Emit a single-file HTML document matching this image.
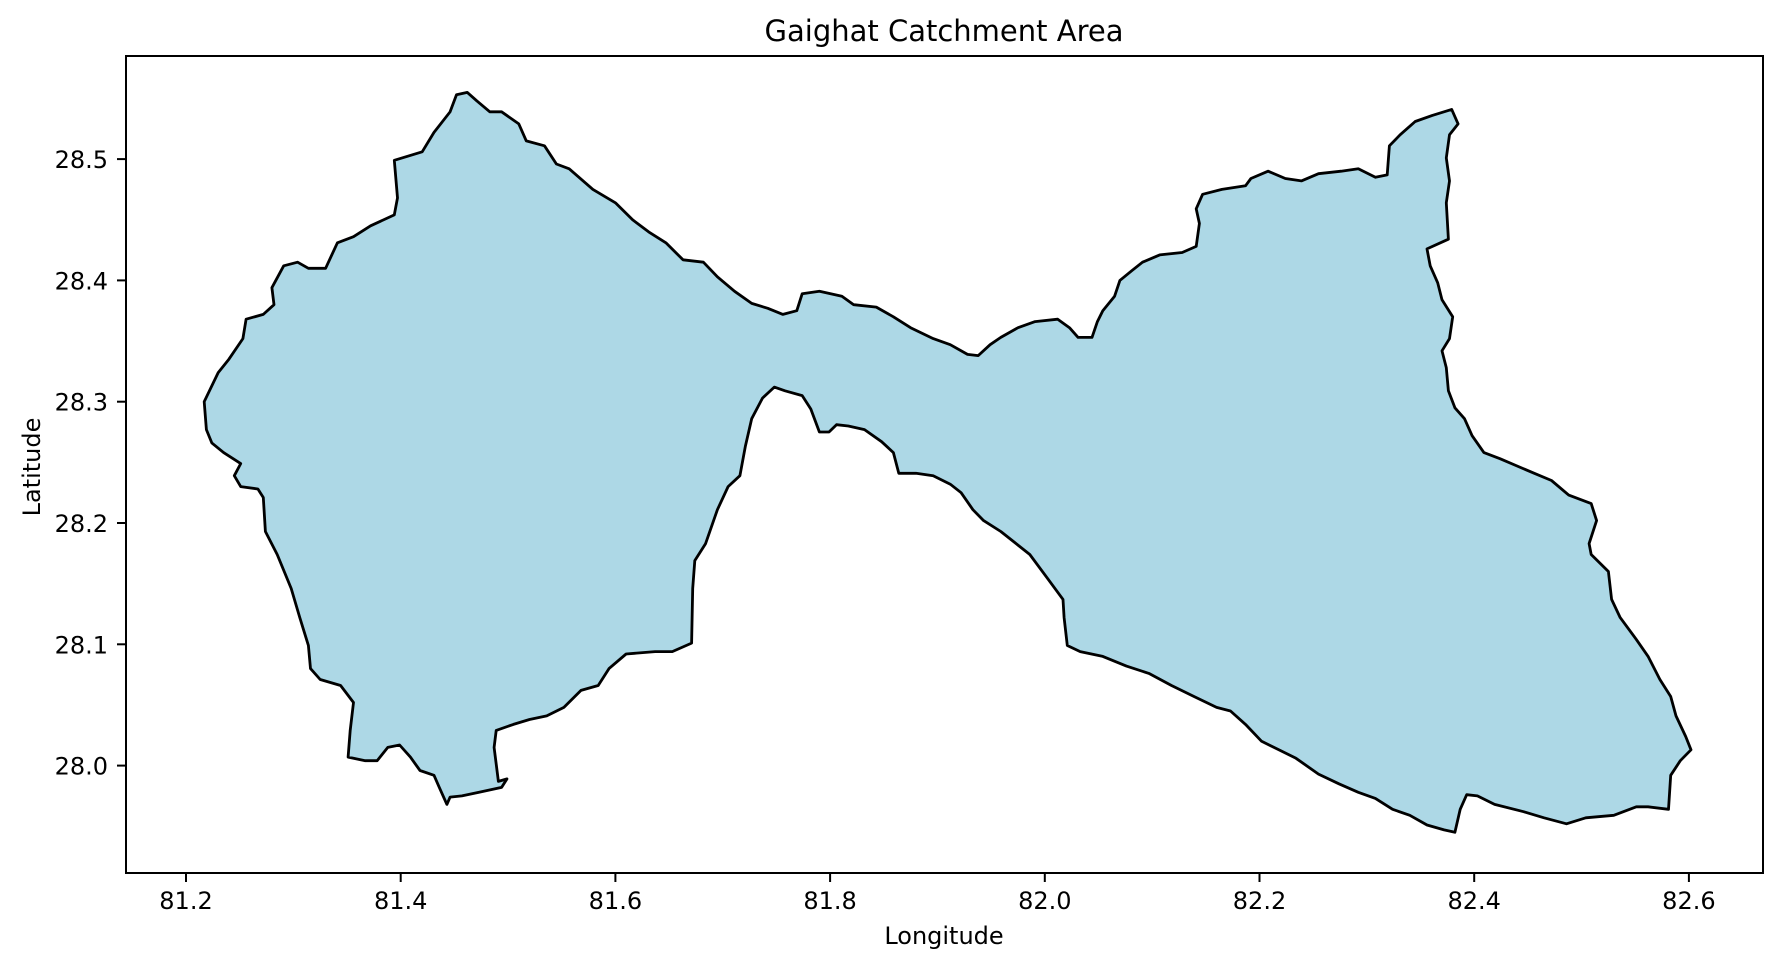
<!DOCTYPE html>
<html>
<head>
<meta charset="utf-8">
<style>
  html,body{margin:0;padding:0;background:#fff;}
  svg{display:block;}
  text{font-family:"DejaVu Sans","Liberation Sans",sans-serif;fill:#000;}
</style>
</head>
<body>
<svg id="chart" width="1781" height="966" viewBox="0 0 1781 966" xmlns="http://www.w3.org/2000/svg">
  <rect x="0" y="0" width="1781" height="966" fill="#fff"/>
  <text x="944" y="41" font-size="29" text-anchor="middle">Gaighat Catchment Area</text>
  <g id="plot"></g>
  <g id="xticks"></g>
  <g id="yticks"></g>
  <rect x="126" y="56" width="1637" height="817" fill="none" stroke="#000" stroke-width="2"/>
  <text x="944" y="944" font-size="24" text-anchor="middle">Longitude</text>
  <text x="0" y="0" font-size="24" text-anchor="middle" transform="translate(40,467) rotate(-90)">Latitude</text>
</svg>
<script>
const xTickValues = [81.2, 81.4, 81.6, 81.8, 82.0, 82.2, 82.4, 82.6];
const xTickLabels = ["81.2","81.4","81.6","81.8","82.0","82.2","82.4","82.6"];
const yTickValues = [28.0, 28.1, 28.2, 28.3, 28.4, 28.5];
const yTickLabels = ["28.0","28.1","28.2","28.3","28.4","28.5"];
const boundaryLon = [81.217,81.230,81.240,81.253,81.256,81.272,81.282,81.280,81.291,81.304,81.314,81.330,81.341,81.356,81.372,81.394,81.397,81.394,81.420,81.431,81.446,81.452,81.462,81.471,81.483,81.494,81.510,81.517,81.534,81.545,81.557,81.579,81.600,81.616,81.631,81.647,81.663,81.682,81.695,81.711,81.727,81.742,81.756,81.769,81.774,81.790,81.811,81.822,81.843,81.859,81.875,81.896,81.912,81.928,81.938,81.949,81.959,81.975,81.991,82.012,82.023,82.031,82.044,82.049,82.054,82.065,82.070,82.081,82.091,82.107,82.128,82.141,82.144,82.141,82.147,82.165,82.187,82.192,82.208,82.224,82.239,82.255,82.276,82.292,82.308,82.319,82.321,82.331,82.345,82.361,82.379,82.385,82.377,82.374,82.377,82.374,82.376,82.356,82.359,82.366,82.370,82.380,82.377,82.370,82.374,82.376,82.382,82.391,82.398,82.409,82.424,82.440,82.456,82.472,82.488,82.509,82.514,82.507,82.509,82.525,82.528,82.536,82.551,82.562,82.573,82.583,82.588,82.597,82.602,82.592,82.583,82.581,82.562,82.551,82.530,82.504,82.486,82.465,82.446,82.419,82.403,82.393,82.387,82.382,82.372,82.356,82.340,82.324,82.308,82.292,82.274,82.255,82.234,82.218,82.202,82.187,82.173,82.160,82.139,82.118,82.097,82.076,82.054,82.033,82.021,82.018,82.017,82.002,81.986,81.959,81.943,81.933,81.922,81.912,81.896,81.880,81.864,81.859,81.848,81.832,81.817,81.806,81.799,81.790,81.782,81.774,81.758,81.748,81.737,81.727,81.721,81.716,81.705,81.695,81.684,81.674,81.672,81.671,81.653,81.637,81.610,81.594,81.584,81.568,81.552,81.536,81.520,81.505,81.489,81.487,81.491,81.499,81.494,81.473,81.457,81.446,81.443,81.436,81.431,81.418,81.409,81.399,81.388,81.378,81.367,81.351,81.353,81.356,81.344,81.325,81.316,81.314,81.306,81.298,81.285,81.274,81.272,81.267,81.251,81.245,81.251,81.235,81.224,81.219];
const boundaryLat = [28.300,28.324,28.335,28.352,28.368,28.372,28.380,28.394,28.412,28.415,28.410,28.410,28.431,28.436,28.445,28.454,28.468,28.499,28.506,28.522,28.539,28.553,28.555,28.548,28.539,28.539,28.529,28.515,28.511,28.496,28.492,28.475,28.464,28.450,28.440,28.431,28.417,28.415,28.403,28.391,28.381,28.377,28.372,28.375,28.389,28.391,28.387,28.380,28.378,28.370,28.361,28.352,28.347,28.339,28.338,28.347,28.353,28.361,28.366,28.368,28.361,28.353,28.353,28.366,28.375,28.387,28.400,28.408,28.415,28.421,28.423,28.428,28.447,28.459,28.471,28.475,28.478,28.484,28.490,28.484,28.482,28.488,28.490,28.492,28.485,28.487,28.511,28.520,28.531,28.536,28.541,28.529,28.520,28.501,28.482,28.464,28.434,28.426,28.412,28.398,28.384,28.370,28.352,28.342,28.328,28.309,28.295,28.286,28.272,28.258,28.253,28.247,28.241,28.235,28.223,28.216,28.202,28.183,28.174,28.160,28.137,28.122,28.104,28.090,28.071,28.057,28.041,28.024,28.013,28.004,27.992,27.964,27.966,27.966,27.959,27.957,27.952,27.957,27.962,27.968,27.975,27.976,27.964,27.945,27.947,27.951,27.959,27.964,27.973,27.978,27.985,27.993,28.006,28.013,28.020,28.034,28.045,28.048,28.057,28.066,28.076,28.082,28.090,28.094,28.099,28.122,28.137,28.155,28.174,28.193,28.202,28.211,28.225,28.232,28.239,28.241,28.241,28.258,28.267,28.277,28.280,28.281,28.275,28.275,28.294,28.305,28.309,28.312,28.303,28.286,28.263,28.239,28.230,28.211,28.183,28.169,28.146,28.101,28.094,28.094,28.092,28.080,28.066,28.062,28.048,28.041,28.038,28.034,28.029,28.015,27.987,27.989,27.982,27.978,27.975,27.974,27.968,27.982,27.992,27.996,28.007,28.017,28.015,28.004,28.004,28.007,28.029,28.052,28.066,28.071,28.080,28.099,28.122,28.146,28.174,28.193,28.221,28.228,28.230,28.239,28.249,28.258,28.266,28.277];

const NS = "http://www.w3.org/2000/svg";
function xScale(lon){ return 186 + (lon - 81.2) * 1073.5; }
function yScale(lat){ return 765.6 - (lat - 28.0) * 1213; }

const plot = document.getElementById('plot');
let d = '';
for (let i = 0; i < boundaryLon.length; i++) {
  d += (i === 0 ? 'M' : 'L') + xScale(boundaryLon[i]).toFixed(1) + ',' + yScale(boundaryLat[i]).toFixed(1);
}
d += 'Z';
const poly = document.createElementNS(NS, 'path');
poly.setAttribute('d', d);
poly.setAttribute('fill', '#add8e6');
poly.setAttribute('stroke', '#000');
poly.setAttribute('stroke-width', '2.8');
poly.setAttribute('stroke-linejoin', 'round');


plot.appendChild(poly);

const xg = document.getElementById('xticks');
xTickValues.forEach((v, i) => {
  const x = xScale(v);
  const t = document.createElementNS(NS, 'line');
  t.setAttribute('x1', x); t.setAttribute('x2', x);
  t.setAttribute('y1', 873); t.setAttribute('y2', 882);
  t.setAttribute('stroke', '#000'); t.setAttribute('stroke-width', '2');
  
  
  xg.appendChild(t);
  const l = document.createElementNS(NS, 'text');
  l.setAttribute('x', x); l.setAttribute('y', 909);
  l.setAttribute('font-size', '24'); l.setAttribute('text-anchor', 'middle');
  l.textContent = xTickLabels[i];
  
  
  xg.appendChild(l);
});

const yg = document.getElementById('yticks');
yTickValues.forEach((v, i) => {
  const y = yScale(v);
  const t = document.createElementNS(NS, 'line');
  t.setAttribute('x1', 117); t.setAttribute('x2', 126);
  t.setAttribute('y1', y); t.setAttribute('y2', y);
  t.setAttribute('stroke', '#000'); t.setAttribute('stroke-width', '2');
  
  
  yg.appendChild(t);
  const l = document.createElementNS(NS, 'text');
  l.setAttribute('x', 108); l.setAttribute('y', y + 9);
  l.setAttribute('font-size', '24'); l.setAttribute('text-anchor', 'end');
  l.textContent = yTickLabels[i];
  
  
  yg.appendChild(l);
});
</script>
</body>
</html>
